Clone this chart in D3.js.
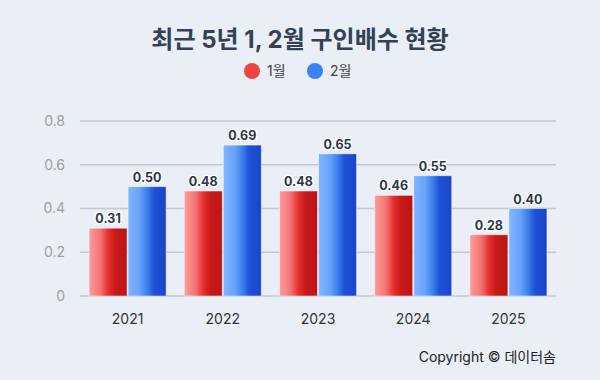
<!DOCTYPE html>
<html><head><meta charset="utf-8">
<script src="https://cdn.jsdelivr.net/npm/d3@7"></script>
<style>
html,body{margin:0;padding:0;background:#eaeef6;}
svg{display:block;font-family:Inter,"Noto Sans CJK KR",sans-serif;}
</style></head>
<body><svg id="c" width="600" height="380"></svg>
<script>
const categories = ["2021","2022","2023","2024","2025"];
const seriesNames = ["1월","2월"];
const jan = [0.31,0.48,0.48,0.46,0.28];
const feb = [0.50,0.69,0.65,0.55,0.40];
const yTicks = [0,0.2,0.4,0.6,0.8];
const yTickLabels = ["0","0.2","0.4","0.6","0.8"];

(function(){
const svg = d3.select("#c");
svg.append("rect").attr("width",600).attr("height",380).attr("fill","#eaeef6");
const defs = svg.append("defs");
function grad(id, stops){
  const g = defs.append("linearGradient").attr("id",id).attr("x1","0").attr("x2","1").attr("y1","0").attr("y2","0");
  stops.forEach(s=>g.append("stop").attr("offset",s[0]).attr("stop-color",s[1]));
}
grad("gRed",[["0%","#ff9c9c"],["30%","#f47272"],["50%","#e63030"],["68%","#c81a1a"],["100%","#bb1515"]]);
grad("gBlue",[["0%","#80b6ff"],["30%","#68a2fb"],["50%","#3f7fee"],["68%","#1e52d6"],["100%","#1a44c8"]]);

const pl=80, pr=556, pt=121, pb=296;
const x0 = d3.scaleBand().domain(categories).range([pl,pr]).paddingInner(0.18).paddingOuter(0.09);
const x1 = d3.scaleBand().domain(seriesNames).range([0,x0.bandwidth()]).padding(0);
const y = d3.scaleLinear().domain([0,0.8]).range([pb,pt]);

svg.append("g").selectAll("line").data(yTicks).join("line")
  .attr("x1",pl).attr("x2",pr).attr("y1",d=>y(d)).attr("y2",d=>y(d))
  .attr("stroke","#c3c8d2").attr("stroke-width",1.5);
svg.append("g").selectAll("text").data(yTicks).join("text")
  .attr("x",65).attr("y",d=>y(d)).attr("dy","0.35em").attr("text-anchor","end")
  .attr("fill","#9aa0aa").attr("font-size",14).text((d,i)=>yTickLabels[i]);

const xAxis = d3.axisBottom(x0).tickSize(0).tickPadding(18);
const xg = svg.append("g").attr("transform",`translate(0,${pb})`).call(xAxis);
xg.select(".domain").remove();
xg.selectAll("text").attr("font-size",14).attr("fill","#333").attr("font-family",'Inter,"Noto Sans CJK KR",sans-serif');

const data = categories.map((c,i)=>({cat:c, vals:[{s:"1월",v:jan[i]},{s:"2월",v:feb[i]}]}));
const fills = {"1월":"url(#gRed)","2월":"url(#gBlue)"};
const groups = svg.append("g").selectAll("g").data(data).join("g")
  .attr("transform",d=>`translate(${x0(d.cat)},0)`);
groups.selectAll("rect").data(d=>d.vals).join("rect")
  .attr("x",d=>x1(d.s)+0.5).attr("width",x1.bandwidth()-1)
  .attr("y",d=>y(d.v)).attr("height",d=>y(0)-y(d.v))
  .attr("fill",d=>fills[d.s]).attr("stroke","rgba(255,255,255,0.5)").attr("stroke-width",1);
groups.selectAll("text").data(d=>d.vals).join("text")
  .attr("x",d=>x1(d.s)+x1.bandwidth()/2).attr("y",d=>y(d.v)-5)
  .attr("text-anchor","middle").attr("font-size",12.5).attr("font-weight",700)
  .attr("fill","#2d3748").attr("stroke","#ffffff").attr("stroke-width",2.5)
  .attr("paint-order","stroke").attr("stroke-linejoin","round")
  .text(d=>d.v.toFixed(2));

svg.append("text").attr("x",300).attr("y",48).attr("text-anchor","middle")
  .attr("font-size",24).attr("font-weight",700).attr("fill","#334155")
  .text("최근 5년 1, 2월 구인배수 현황");

const legColors = ["#ef4444","#3b82f6"];
const legX = [252,315];
seriesNames.forEach((s,i)=>{
  svg.append("circle").attr("cx",legX[i]).attr("cy",71).attr("r",8).attr("fill",legColors[i]);
  svg.append("text").attr("x",legX[i]+15).attr("y",71).attr("dy","0.35em")
    .attr("font-size",14).attr("fill","#444").text(s);
});

svg.append("text").attr("x",556).attr("y",357).attr("dy","0.35em").attr("text-anchor","end")
  .attr("font-size",14).attr("fill","#222").text("Copyright © 데이터솜");
})();
</script></body></html>
